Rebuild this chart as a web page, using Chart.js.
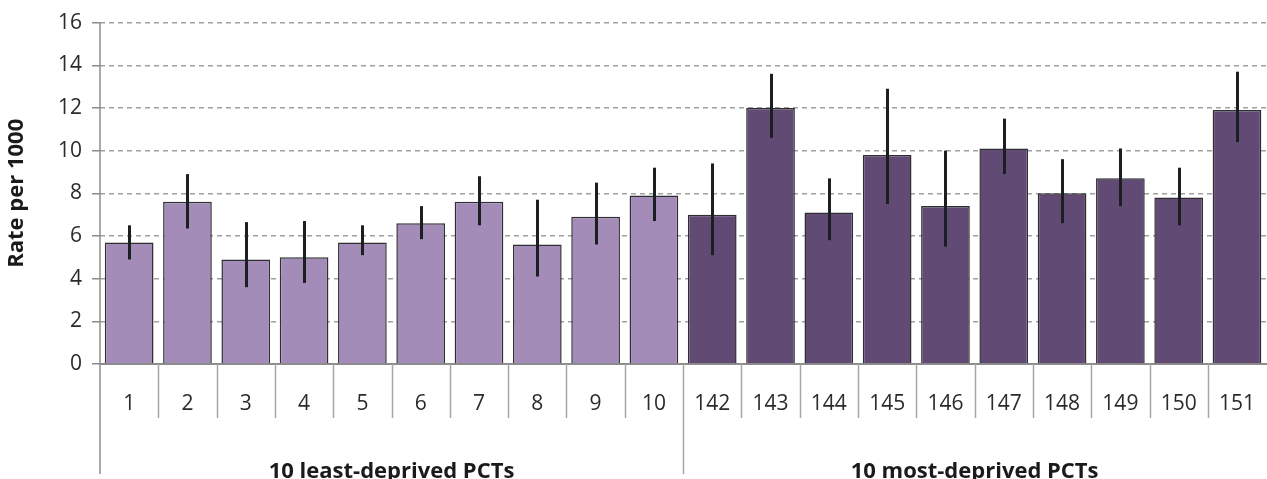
<!DOCTYPE html>
<html>
<head>
<meta charset="utf-8">
<script src="https://cdn.jsdelivr.net/npm/chart.js@4/dist/chart.umd.min.js"></script>
<style>
  html, body { margin: 0; padding: 0; background: #fff; overflow: hidden; }
  #wrap { width: 1267px; height: 479px; overflow: hidden; }
</style>
</head>
<body>
<div id="wrap"><canvas id="rateChart" width="1274" height="479"></canvas></div>
<script>
// PCT identifiers (x categories)
var pctLabels = ['1', '2', '3', '4', '5', '6', '7', '8', '9', '10',
                 '142', '143', '144', '145', '146', '147', '148', '149', '150', '151'];

// Rate per 1000 and confidence limits
var rates = [5.7, 7.6, 4.9, 5.0, 5.7, 6.6, 7.6, 5.6, 6.9, 7.9,
             7.0, 12.0, 7.1, 9.8, 7.4, 10.1, 8.0, 8.7, 7.8, 11.9];
var lowerCI = [4.9, 6.35, 3.6, 3.8, 5.1, 5.85, 6.5, 4.1, 5.6, 6.7,
               5.1, 10.6, 5.8, 7.5, 5.5, 8.9, 6.6, 7.4, 6.5, 10.4];
var upperCI = [6.5, 8.9, 6.65, 6.7, 6.5, 7.4, 8.8, 7.7, 8.5, 9.2,
               9.4, 13.6, 8.7, 12.9, 10.0, 11.5, 9.6, 10.1, 9.2, 13.7];

// Groups along the bottom
var groupNames = ['10 least-deprived PCTs', '10 most-deprived PCTs'];
var groupSize = 10;

// y axis ticks
var yTicks = [0, 2, 4, 6, 8, 10, 12, 14, 16];

var lightPurple = '#a38cb8';
var darkPurple = '#614a74';
var axisGrey = '#8c8c8c';
var fontFamily = '"Open Sans", "Noto Sans", sans-serif';

var barColors = rates.map(function(v, i) {
    return i < groupSize ? lightPurple : darkPurple;
});

// Error bars, category separators and group labels
var extrasPlugin = {
    id: 'extras',
    afterDatasetsDraw: function(chart) {
        var ctx = chart.ctx;
        var x = chart.scales.x;
        var y = chart.scales.y;
        ctx.save();
        ctx.strokeStyle = '#1c1f22';
        ctx.lineWidth = 3;
        for (var i = 0; i < rates.length; i++) {
            var px = Math.round(x.getPixelForValue(i)) + 0.5;
            ctx.beginPath();
            ctx.moveTo(px, y.getPixelForValue(upperCI[i]));
            ctx.lineTo(px, y.getPixelForValue(lowerCI[i]));
            ctx.stroke();
        }
        ctx.restore();
    },
    afterDraw: function(chart) {
        var ctx = chart.ctx;
        var area = chart.chartArea;
        var x = chart.scales.x;
        var step = x.getPixelForValue(1) - x.getPixelForValue(0);
        var tickBottom = area.bottom + 54;
        var groupBottom = area.bottom + 110;

        ctx.save();
        ctx.strokeStyle = axisGrey;
        ctx.lineWidth = 1.5;
        // y axis line down through the label area
        ctx.beginPath();
        ctx.moveTo(area.left, area.top);
        ctx.lineTo(area.left, groupBottom);
        ctx.stroke();

        // category separators
        ctx.strokeStyle = '#a6a6a6';
        for (var i = 1; i < pctLabels.length; i++) {
            var bx = Math.round(x.getPixelForValue(i) - step / 2) + 0.5;
            ctx.beginPath();
            ctx.moveTo(bx, area.bottom);
            ctx.lineTo(bx, (i % groupSize === 0) ? groupBottom : tickBottom);
            ctx.stroke();
        }

        // group labels
        ctx.fillStyle = '#1a1a1a';
        ctx.font = 'bold 22px ' + fontFamily;
        ctx.textAlign = 'center';
        ctx.textBaseline = 'middle';
        groupNames.forEach(function(name, g) {
            var first = x.getPixelForValue(g * groupSize) - step / 2;
            var last = x.getPixelForValue(g * groupSize + groupSize - 1) + step / 2;
            ctx.fillText(name, (first + last) / 2, area.bottom + 108);
        });
        ctx.restore();
    }
};

var ctx = document.getElementById('rateChart');
new Chart(ctx, {
    type: 'bar',
    data: {
        labels: pctLabels,
        datasets: [{
            data: rates,
            backgroundColor: barColors,
            borderColor: '#2e2e33',
            borderWidth: 1.5,
            barPercentage: 0.835,
            categoryPercentage: 1
        }]
    },
    options: {
        responsive: false,
        animation: false,
        devicePixelRatio: 1,
        layout: {
            padding: { top: 22, right: 0, bottom: 0, left: 0 }
        },
        plugins: {
            legend: { display: false },
            tooltip: { enabled: false }
        },
        scales: {
            x: {
                offset: true,
                grid: { display: false },
                border: { display: true, color: axisGrey, width: 2 },
                ticks: {
                    color: '#2b2b2b',
                    font: { family: fontFamily, size: 21 },
                    padding: 19,
                    maxRotation: 0,
                    autoSkip: false
                },
                afterFit: function(scale) { scale.height = 115; }
            },
            y: {
                min: 0,
                max: 16,
                afterBuildTicks: function(scale) {
                    scale.ticks = yTicks.map(function(v) { return { value: v }; });
                },
                grid: {
                    color: '#a0a0a0',
                    lineWidth: 1.5,
                    tickLength: 8,
                    tickColor: axisGrey,
                    tickBorderDash: [],
                    drawTicks: true
                },
                border: { display: false, dash: [5, 4] },
                ticks: {
                    color: '#2b2b2b',
                    font: { family: fontFamily, size: 21 },
                    padding: 10
                },
                title: {
                    display: true,
                    text: 'Rate per 1000',
                    color: '#1a1a1a',
                    font: { family: fontFamily, size: 22, weight: 'bold' },
                    padding: { top: 4, bottom: 12 }
                },
                afterFit: function(scale) { scale.width = 100; }
            }
        }
    },
    plugins: [extrasPlugin]
});
</script>
</body>
</html>
